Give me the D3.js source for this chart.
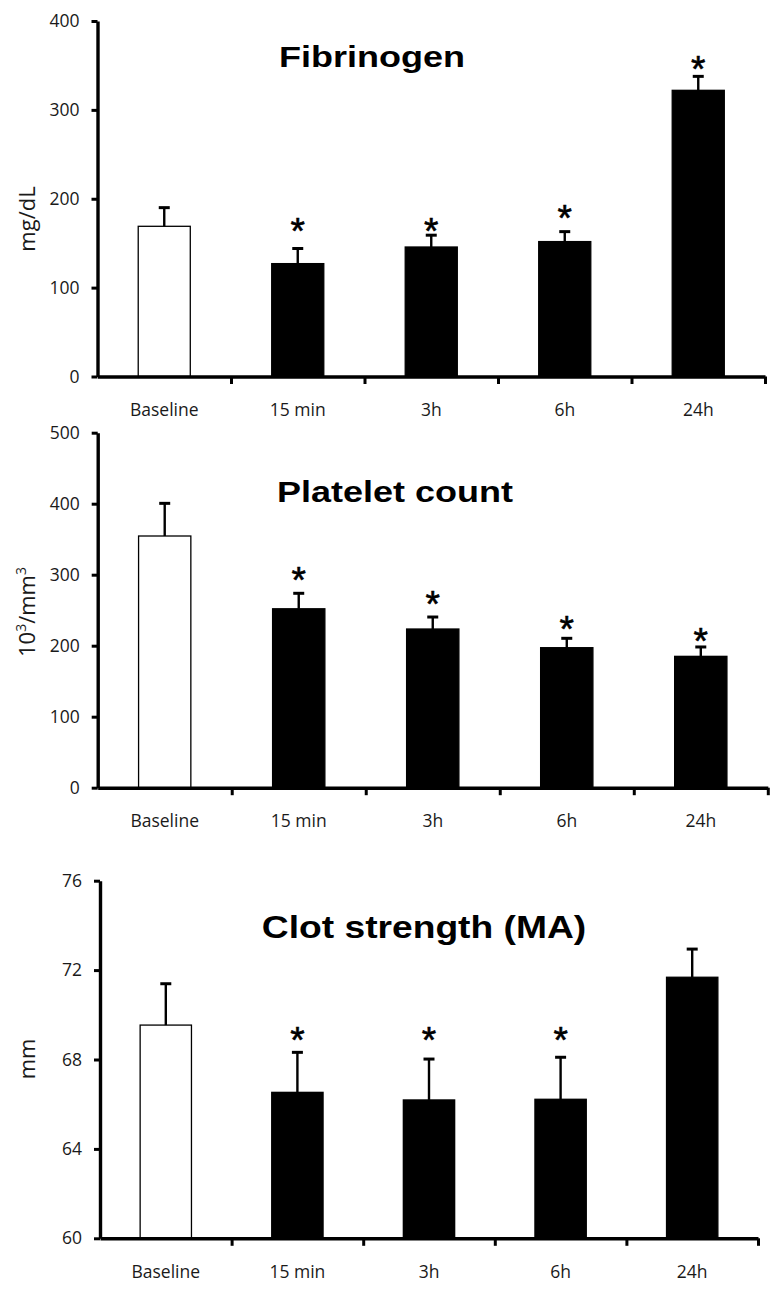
<!DOCTYPE html>
<html>
<head>
<meta charset="utf-8">
<script src="https://cdn.jsdelivr.net/npm/d3@7"></script>
<style>
  html, body { margin: 0; padding: 0; background: #fff; }
  svg { display: block; }
  .ax .domain { stroke: #000; stroke-width: 3.4px; }
  .ax .tick line { stroke: #000; stroke-width: 3px; }
</style>
</head>
<body>
<svg id="chart" width="781" height="1292"></svg>
<script>
// ---------------- DATA ----------------
const categories = ["Baseline", "15 min", "3h", "6h", "24h"];

const fibrinogenMean = [169, 127, 145.7, 151.8, 322];
const fibrinogenSE   = [21, 17, 13.3, 11.2, 15.7];
const fibrinogenStar = [null, 172.7, 172.7, 187, 355];   // y-position (data units) of "*"
const fibrinogenTicks = [0, 100, 200, 300, 400];

const plateletMean = [354.5, 252, 223.5, 197.2, 185];
const plateletSE   = [46, 21.8, 16.9, 13.2, 13.2];
const plateletStar = [null, 304, 270.4, 235, 217.5];
const plateletTicks = [0, 100, 200, 300, 400, 500];

const maMean = [69.54, 66.53, 66.19, 66.22, 71.68];
const maSE   = [1.85, 1.79, 1.83, 1.88, 1.26];
const maStar = [null, 69.24, 69.24, 69.24, null];
const maTicks = [60, 64, 68, 72, 76];

// ---------------- LAYOUT ----------------
const panels = [
  { title: "Fibrinogen", mean: fibrinogenMean, se: fibrinogenSE, star: fibrinogenStar, ticks: fibrinogenTicks,
    domain: [0, 400], x0: 97.5, x1: 765, yTop: 21, yBot: 376.5,
    titleX: 372, titleY: 67, titleSize: 30, ylabel: ["mg/dL"], ylabelY: 219 },
  { title: "Platelet count", mean: plateletMean, se: plateletSE, star: plateletStar, ticks: plateletTicks,
    domain: [0, 500], x0: 97.7, x1: 767.8, yTop: 432.7, yBot: 787.7,
    titleX: 395, titleY: 502, titleSize: 30, ylabel: ["10", "3", "/mm", "3"], ylabelY: 612 },
  { title: "Clot strength (MA)", mean: maMean, se: maSE, star: maStar, ticks: maTicks,
    domain: [60, 76], x0: 100, x1: 758, yTop: 880.7, yBot: 1238.3,
    titleX: 424, titleY: 938, titleSize: 31, ylabel: ["mm"], ylabelY: 1059 }
];

const svg = d3.select("#chart");
const tickFont = "'Open Sans', 'DejaVu Sans', sans-serif";
const titleFont = "'Liberation Sans', Arial, sans-serif";

panels.forEach(p => {
  const g = svg.append("g");
  const x = d3.scaleBand().domain(categories).range([p.x0, p.x1])
    .paddingInner(0.61).paddingOuter(0.305);
  const y = d3.scaleLinear().domain(p.domain).range([p.yBot, p.yTop]);
  const bound = d3.scaleLinear().domain([0, categories.length]).range([p.x0, p.x1]);
  const cx = i => x(categories[i]) + x.bandwidth() / 2;

  // Bars
  g.selectAll("rect.bar").data(p.mean).join("rect")
    .attr("class", "bar")
    .attr("x", (d, i) => x(categories[i]))
    .attr("width", x.bandwidth())
    .attr("y", d => y(d))
    .attr("height", d => y(p.domain[0]) - y(d))
    .attr("fill", (d, i) => i === 0 ? "#fff" : "#000")
    .attr("stroke", "#000")
    .attr("stroke-width", 1.3);

  // Error bars (upper only)
  const eb = g.selectAll("g.err").data(p.mean).join("g").attr("class", "err");
  eb.append("line")
    .attr("x1", (d, i) => cx(i))
    .attr("x2", (d, i) => cx(i))
    .attr("y1", d => y(d))
    .attr("y2", (d, i) => y(d + p.se[i]))
    .attr("stroke", "#000").attr("stroke-width", 2.4);
  eb.append("line")
    .attr("x1", (d, i) => cx(i) - 5.5)
    .attr("x2", (d, i) => cx(i) + 5.5)
    .attr("y1", (d, i) => y(d + p.se[i]))
    .attr("y2", (d, i) => y(d + p.se[i]))
    .attr("stroke", "#000").attr("stroke-width", 3);

  // Stars
  const starData = p.star.map((v, i) => ({ v, i })).filter(d => d.v !== null);
  g.selectAll("text.star").data(starData).join("text")
    .attr("class", "star")
    .attr("x", d => cx(d.i))
    .attr("y", d => y(d.v) + 21)
    .attr("text-anchor", "middle")
    .attr("font-family", titleFont)
    .attr("font-size", 37)
    .attr("fill", "#000")
    .attr("stroke", "#000")
    .attr("stroke-width", 0.6)
    .text("*");

  // Y axis
  const yAxis = d3.axisLeft(y).tickValues(p.ticks).tickSize(6).tickSizeOuter(0).tickPadding(12);
  const ya = g.append("g").attr("class", "ax").attr("transform", `translate(${p.x0},0)`).call(yAxis);
  ya.selectAll(".tick text").attr("font-family", tickFont).attr("font-size", 17.5).attr("fill", "#1a1a1a");

  // X axis (ticks at category boundaries)
  const xAxis = d3.axisBottom(bound).tickValues([1, 2, 3, 4, 5]).tickSize(7.5).tickSizeOuter(0).tickFormat("");
  g.append("g").attr("class", "ax").attr("transform", `translate(0,${p.yBot})`).call(xAxis);

  // Category labels
  g.selectAll("text.cat").data(categories).join("text")
    .attr("class", "cat")
    .attr("x", d => x(d) + x.bandwidth() / 2)
    .attr("y", p.yBot + 39.5)
    .attr("text-anchor", "middle")
    .attr("font-family", tickFont)
    .attr("font-size", 17.5)
    .attr("fill", "#1a1a1a")
    .text(d => d);

  // Title
  g.append("text")
    .attr("transform", `translate(${p.titleX},${p.titleY}) scale(1.2,1)`)
    .attr("text-anchor", "middle")
    .attr("font-family", titleFont)
    .attr("font-weight", "bold")
    .attr("font-size", p.titleSize)
    .attr("fill", "#000")
    .text(p.title);

  // Y label
  const yl = g.append("text")
    .attr("transform", `translate(35,${p.ylabelY}) rotate(-90)`)
    .attr("text-anchor", "middle")
    .attr("font-family", tickFont)
    .attr("font-size", 22)
    .attr("fill", "#1a1a1a");
  if (p.ylabel.length === 1) {
    yl.text(p.ylabel[0]);
  } else {
    p.ylabel.forEach((s, k) => {
      const t = yl.append("tspan").text(s);
      if (k % 2 === 1) t.attr("dy", -9).attr("font-size", 14);
      else if (k > 0) t.attr("dy", 9);
    });
  }
});
</script>
</body>
</html>
